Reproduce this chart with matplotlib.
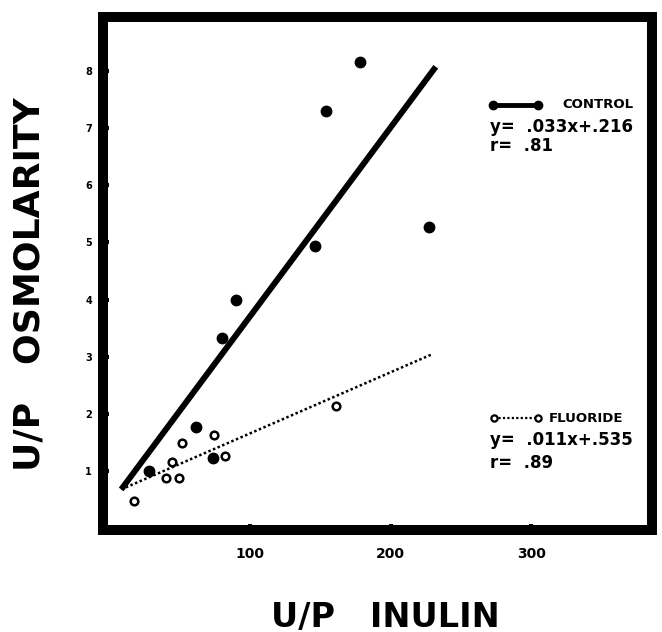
import matplotlib
matplotlib.use('Agg')
import matplotlib.pyplot as plt
from matplotlib.lines import Line2D

# values
control_x = [28, 61, 73, 80, 90, 146, 154, 178, 227]
control_y = [1.00, 1.77, 1.23, 3.33, 4.00, 4.93, 7.30, 8.16, 5.26]
fluoride_x = [17, 40, 44, 49, 51, 74, 82, 161]
fluoride_y = [0.47, 0.88, 1.16, 0.88, 1.49, 1.63, 1.26, 2.14]

# regression lines as drawn (end points)
control_fit_x = [8, 232]
control_fit_y = [0.68, 8.07]
fluoride_fit_x = [8, 230]
fluoride_fit_y = [0.68, 3.05]

x_ticks = [100, 200, 300]
y_ticks = [1, 2, 3, 4, 5, 6, 7, 8]

W, H = 662, 632
fig = plt.figure(figsize=(W / 100, H / 100), dpi=100)
ax = fig.add_axes([103 / W, 1 - 530 / H, (652 - 103) / W, (530 - 17) / H])

plt.rcParams['font.family'] = ['DejaVu Sans']


def px(x, y):
    return x / W, 1 - y / H


ax.plot(control_fit_x, control_fit_y, color='black', linewidth=4.3,
        solid_capstyle='butt', zorder=2)
ax.plot(fluoride_fit_x, fluoride_fit_y, color='black', linewidth=1.8,
        linestyle=(0, (1.0, 1.0)), zorder=2)
ax.plot(control_x, control_y, 'o', color='black', markersize=7.5, zorder=3)
ax.plot(fluoride_x, fluoride_y, 'o', markerfacecolor='white',
        markeredgecolor='black', markersize=5.5, markeredgewidth=1.8, zorder=3)

ax.set_xlim(-5, 386)
ax.set_ylim(-0.03, 8.94)
ax.set_xticks(x_ticks)
ax.set_yticks(y_ticks)
ax.set_xticklabels([str(t) for t in x_ticks], fontsize=10, fontweight='bold')
ax.set_yticklabels([str(t) for t in y_ticks], fontsize=7, fontweight='bold')
ax.tick_params(direction='in', length=4, width=3, pad=12)
ax.tick_params(axis='y', pad=8)
for s in ax.spines.values():
    s.set_linewidth(7.2)

# axis titles
fig.text(*px(30, 284), 'U/P   OSMOLARITY', rotation=90, ha='center',
         va='center', fontsize=26, fontweight='bold')
fig.text(*px(385, 617), 'U/P   INULIN', ha='center', va='center',
         fontsize=24, fontweight='bold')

# legend blocks
fig.add_artist(Line2D([493 / W, 538 / W], [1 - 105 / H] * 2, color='black',
                      linewidth=3.5, marker='o', markersize=6,
                      transform=fig.transFigure))
fig.text(*px(562, 105), 'CONTROL', ha='left', va='center',
         fontsize=9.5, fontweight='bold')
fig.text(*px(490, 127), 'y=  .033x+.216', ha='left', va='center',
         fontsize=12, fontweight='bold')
fig.text(*px(490, 146), 'r=  .81', ha='left', va='center',
         fontsize=12, fontweight='bold')

fig.add_artist(Line2D([494 / W, 538 / W], [1 - 418 / H] * 2, color='black',
                      linewidth=1.6, linestyle=(0, (1, 1)), marker='o',
                      markersize=4.5, markerfacecolor='white',
                      markeredgewidth=1.6, transform=fig.transFigure))
fig.text(*px(549, 418), 'FLUORIDE', ha='left', va='center',
         fontsize=9.5, fontweight='bold')
fig.text(*px(490, 440), 'y=  .011x+.535', ha='left', va='center',
         fontsize=12, fontweight='bold')
fig.text(*px(490, 463), 'r=  .89', ha='left', va='center',
         fontsize=12, fontweight='bold')

fig.savefig('out.png', dpi=100)
